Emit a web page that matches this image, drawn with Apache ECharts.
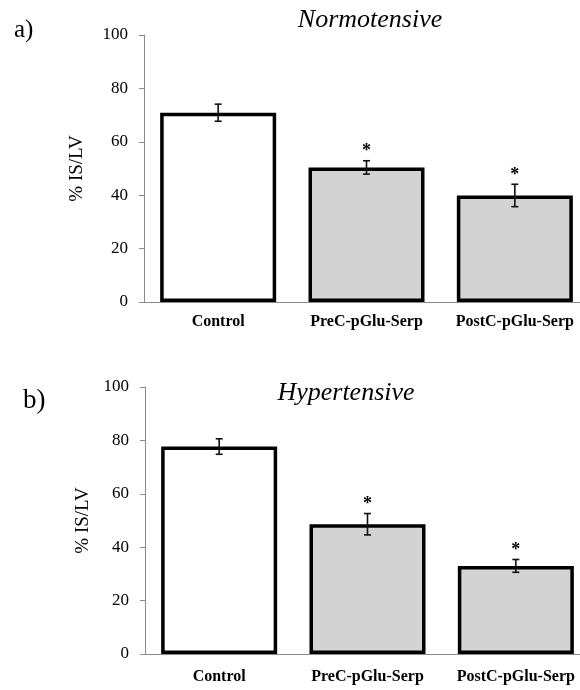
<!DOCTYPE html>
<html>
<head>
<meta charset="utf-8">
<script src="https://cdn.jsdelivr.net/npm/echarts@6/dist/echarts.min.js"></script>
<style>html,body{margin:0;padding:0;background:#fff}#c{width:580px;height:690px}</style>
</head>
<body>
<div id="c"></div>
<script>
var categories = ['Control', 'PreC-pGlu-Serp', 'PostC-pGlu-Serp'];
var normValues = [70.9, 50.4, 39.9];
var normErrors = [3.2, 2.5, 4.2];
var hyperValues = [77.7, 48.6, 33.0];
var hyperErrors = [2.9, 4.0, 2.4];
var significant = [false, true, true];
var yTicks = [0, 20, 40, 60, 80, 100];
var panelTitles = ['Normotensive', 'Hypertensive'];
var panelLetters = ['a)', 'b)'];

var FONT = '"Liberation Serif", "Times New Roman", serif';
var chart = echarts.init(document.getElementById('c'));

function errData(vals, errs) {
  return vals.map(function (v, i) { return [i, v - errs[i], v + errs[i], significant[i] ? 1 : 0]; });
}
function barData(vals) {
  return vals.map(function (v, i) {
    return { value: v, itemStyle: { color: i === 0 ? '#ffffff' : '#d3d3d3' } };
  });
}
function renderErr(params, api) {
  var x = api.value(0);
  var lo = api.coord([x, api.value(1)]);
  var hi = api.coord([x, api.value(2)]);
  var cx = lo[0];
  var w = 3.5;
  var st = { stroke: '#111', lineWidth: 1.6 };
  var children = [
    { type: 'line', shape: { x1: cx, y1: lo[1], x2: cx, y2: hi[1] }, style: st },
    { type: 'line', shape: { x1: cx - w, y1: lo[1], x2: cx + w, y2: lo[1] }, style: st },
    { type: 'line', shape: { x1: cx - w, y1: hi[1], x2: cx + w, y2: hi[1] }, style: st }
  ];
  if (api.value(3)) {
    children.push({ type: 'text', x: cx, y: hi[1] - 9,
      style: { text: '*', font: 'bold 18px ' + FONT, fill: '#000', align: 'center', verticalAlign: 'middle' } });
  }
  return { type: 'group', children: children };
}

var grids = [
  { left: 144, top: 35, width: 445, height: 267, outerBoundsMode: 'none' },
  { left: 145, top: 387, width: 445, height: 267, outerBoundsMode: 'none' }
];
var nameGaps = [57, 49];
var labelMargins = [12, 15];

var xAxes = [], yAxes = [], series = [];
[0, 1].forEach(function (k) {
  xAxes.push({
    type: 'category', gridIndex: k, data: categories,
    axisLine: { lineStyle: { color: '#8a8a8a', width: 1 } },
    axisTick: { show: false },
    axisLabel: { interval: 0, color: '#000', fontFamily: FONT, fontWeight: 'bold', fontSize: 16, margin: labelMargins[k] }
  });
  yAxes.push({
    type: 'value', gridIndex: k, min: yTicks[0], max: yTicks[yTicks.length - 1], interval: 20,
    name: '% IS/LV', nameLocation: 'middle', nameGap: nameGaps[k],
    nameTextStyle: { color: '#000', fontFamily: FONT, fontSize: 19 },
    axisLine: { show: true, lineStyle: { color: '#8a8a8a', width: 1 } },
    axisTick: { show: true, length: 5, lineStyle: { color: '#8a8a8a' } },
    splitLine: { show: false },
    axisLabel: { color: '#000', fontFamily: FONT, fontSize: 17, margin: 16 }
  });
  var vals = k === 0 ? normValues : hyperValues;
  var errs = k === 0 ? normErrors : hyperErrors;
  series.push({
    type: 'bar', xAxisIndex: k, yAxisIndex: k, data: barData(vals), barWidth: 116,
    itemStyle: { borderColor: '#000', borderWidth: 3.5 }, animation: false, silent: true
  });
  series.push({
    type: 'custom', xAxisIndex: k, yAxisIndex: k, data: errData(vals, errs),
    renderItem: renderErr, z: 5, animation: false, silent: true
  });
});

chart.setOption({
  animation: false,
  backgroundColor: '#fff',
  grid: grids,
  xAxis: xAxes,
  yAxis: yAxes,
  series: series,
  graphic: [
    { type: 'text', x: 370, y: 20, style: { text: panelTitles[0], font: 'italic 26px ' + FONT, fill: '#000', align: 'center', verticalAlign: 'middle' } },
    { type: 'text', x: 346, y: 393, style: { text: panelTitles[1], font: 'italic 26px ' + FONT, fill: '#000', align: 'center', verticalAlign: 'middle' } },
    { type: 'text', x: 14, y: 30, style: { text: panelLetters[0], font: '25px ' + FONT, fill: '#000', align: 'left', verticalAlign: 'middle' } },
    { type: 'text', x: 23, y: 401, style: { text: panelLetters[1], font: '27px ' + FONT, fill: '#000', align: 'left', verticalAlign: 'middle' } }
  ]
});
</script>
</body>
</html>
